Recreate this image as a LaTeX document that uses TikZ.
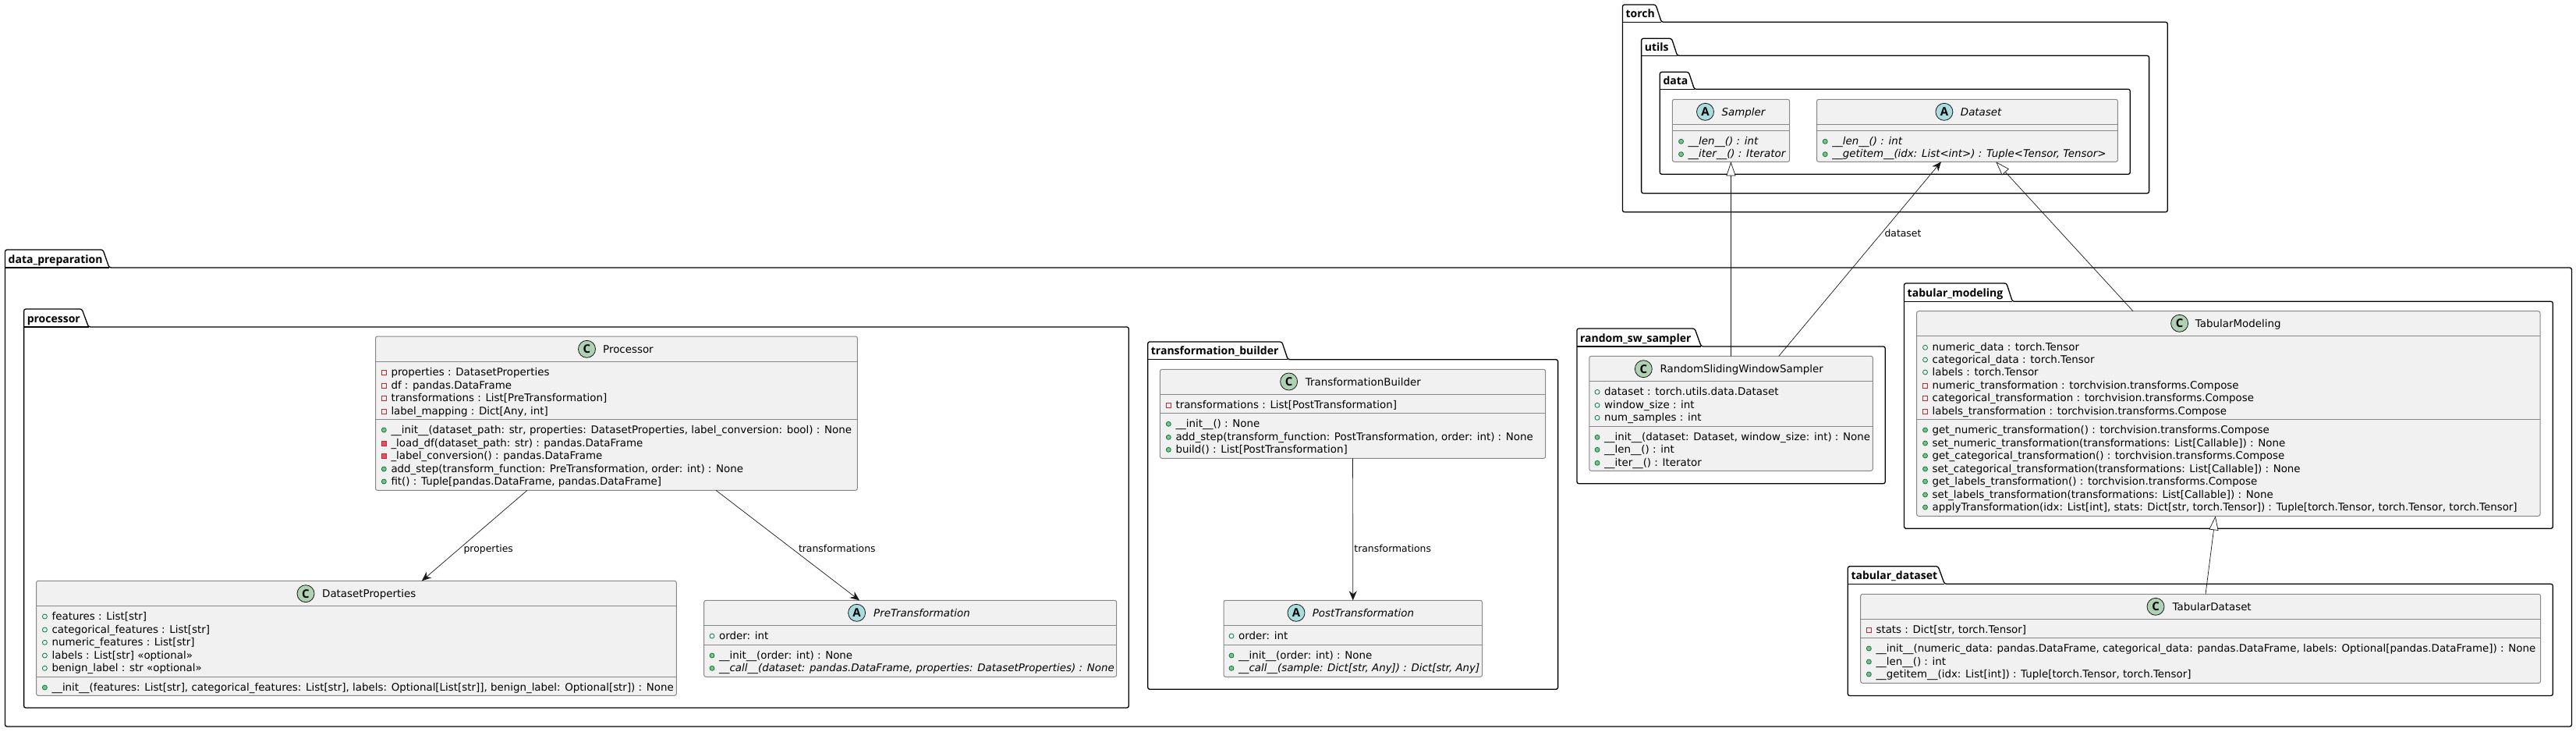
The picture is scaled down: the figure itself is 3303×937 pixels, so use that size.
\documentclass[tikz,border=0pt]{standalone}
\usepackage{fontspec}
\setmainfont{DejaVu Sans}
\newfontfamily\labelfont{Open Sans}
\usetikzlibrary{arrows.meta}
\definecolor{boxfill}{HTML}{F1F1F1}
\definecolor{boxrule}{HTML}{888888}
\definecolor{inkline}{HTML}{181818}
\definecolor{classicon}{HTML}{ADD1B2}
\definecolor{abstracticon}{HTML}{A9DCDF}
\definecolor{pubrule}{HTML}{038048}
\definecolor{pubfill}{HTML}{84BE84}
\definecolor{privrule}{HTML}{C82930}
\definecolor{privfill}{HTML}{F24D5C}
\tikzset{
  pkgline/.style={draw=black,line width=1.3pt,rounded corners=2.5pt},
  pkglabel/.style={anchor=base west,inner sep=0pt,font=\labelfont\fontsize{14}{16}\selectfont\bfseries},
  classbody/.style={draw=boxrule,fill=boxfill,line width=1pt,rounded corners=2.5pt,inner sep=0pt,outer sep=0pt},
  classrule/.style={draw=boxrule,line width=1pt},
  classtitle/.style={anchor=base west,inner sep=0pt,font=\fontsize{13.4}{16}\selectfont},
  membertext/.style={anchor=base west,inner sep=0pt,font=\fontsize{13.4}{16}\selectfont},
  edgelabel/.style={anchor=base west,inner sep=0pt,font=\fontsize{12.4}{15}\selectfont},
  cicon/.style={circle,draw=inkline,fill=classicon,line width=.8pt,minimum size=22pt,inner sep=0pt,font=\labelfont\fontsize{15}{15}\selectfont\bfseries},
  aicon/.style={cicon,fill=abstracticon},
  pubfield/.style={circle,draw=pubrule,line width=.8pt,minimum size=6pt,inner sep=0pt},
  pubmethod/.style={pubfield,fill=pubfill},
  privfield/.style={rectangle,draw=privrule,line width=.8pt,minimum size=6pt,inner sep=0pt},
  privmethod/.style={privfield,fill=privfill},
  assoc/.style={draw=inkline,line width=.7pt,-{Stealth[length=12pt,width=10pt,inset=4pt]}},
  extends/.style={draw=inkline,line width=.7pt,-{Triangle[open,fill=white,length=18pt,width=12pt]}}
}
\newcounter{memberno}
% name, label, left, tab top, tab right top, tab right bottom, body top, right, bottom
\newcommand\pkgbox[9]{
  \draw[pkgline] (#3,#7) -- (#3,#4) -- (#5,#4) -- (#6,#7) -- (#8,#7) -- (#8,#9) -- (#3,#9) -- cycle;
  \draw[pkgline] (#3,#7) -- (#6,#7);
  \node[pkglabel] (#1) at ({#3+4},{#7-6}) {#2};
}
% name, left, top, right, bottom, head rule, member rule
\newcommand\classbox[7]{
  \node[classbody,minimum width={(#4-#2)*1pt},minimum height={(#5-#3)*1pt}] (#1) at ({(#2+#4)/2},{(#3+#5)/2}) {};
  \draw[classrule] (#2,#6) -- (#4,#6);
  \draw[classrule] (#2,#7) -- (#4,#7);
}
% icon style, letter, name, icon x, y, title x, title
\newcommand\classhead[7]{
  \node[#1] (#3icon) at (#4,#5) {#2};
  \node[classtitle] (#3title) at ({#6},{#5+5}) {#7};
}
% icon style, icon x, y, text
\newcommand\member[4]{
  \stepcounter{memberno}
  \node[#1] (icon\thememberno) at (#2,{#3+1}) {};
  \node[membertext] (text\thememberno) at ({#2+9},{#3+5}) {#4};
}
\begin{document}
\begin{tikzpicture}[x=1pt,y=-1pt]
\useasboundingbox (0,0) rectangle (3303,937);
\fill[white] (0,0) rectangle (3303,937);
% packages
\pkgbox{pkgtorch}{torch}{2080.4}{6}{2123}{2130.3}{28.3}{2779.3}{271.7}
\pkgbox{pkgutils}{utils}{2104.6}{49.3}{2143.4}{2150.6}{71.3}{2755.6}{247.7}
\pkgbox{pkgdata}{data}{2128.3}{92.3}{2165.2}{2172.5}{114.3}{2731.3}{223.3}
\pkgbox{pkgprep}{data\_preparation}{6.5}{320}{132}{140}{343}{3297.4}{931}
\pkgbox{pkgproc}{processor}{30.6}{396}{105}{113.5}{419}{1447.3}{907}
\pkgbox{pkgbuilder}{transformation\_builder}{1471.7}{438}{1643.7}{1651.3}{460.7}{1997.6}{883.3}
\pkgbox{pkgsampler}{random\_sw\_sampler}{2021.9}{421}{2173}{2181.3}{444}{2417.3}{619.7}
\pkgbox{pkgmodeling}{tabular\_modeling}{2441.5}{363}{2572.8}{2580.3}{386.3}{3273.3}{677.3}
\pkgbox{pkgdataset}{tabular\_dataset}{2369.3}{725.7}{2485}{2493.3}{748.3}{3273.3}{891.5}
% Sampler
\classbox{sampler}{2144.3}{127.3}{2294.6}{207.3}{159.3}{167.3}
\classhead{aicon}{A}{sampler}{2186.5}{143.3}{2207.4}{\itshape Sampler}
\member{pubmethod}{2155.5}{180.3}{\itshape \_\_len\_\_() : int}
\member{pubmethod}{2155.5}{196.7}{\itshape \_\_iter\_\_() : Iterator}
% Dataset
\classbox{dataset}{2329.5}{127.3}{2715.4}{207.3}{159.3}{167.3}
\classhead{aicon}{A}{dataset}{2492.9}{143.3}{2513.7}{\itshape Dataset}
\member{pubmethod}{2340.2}{180.3}{\itshape \_\_len\_\_() : int}
\member{pubmethod}{2340.2}{196.7}{\itshape \_\_getitem\_\_(idx: List<int>) : Tuple<Tensor, Tensor>}
% Processor
\classbox{processor}{481.5}{431}{1099.3}{628.3}{463.3}{537.3}
\classhead{cicon}{C}{processor}{752.5}{447.3}{773}{Processor}
\member{privfield}{492.3}{476}{properties : DatasetProperties}
\member{privfield}{492.3}{493}{df : pandas.DataFrame}
\member{privfield}{492.3}{509}{transformations : List[PreTransformation]}
\member{privfield}{492.3}{526}{label\_mapping : Dict[Any, int]}
\member{pubmethod}{492.3}{550}{\_\_init\_\_(dataset\_path: str, properties: DatasetProperties, label\_conversion: bool) : None}
\member{privmethod}{492.3}{567}{\_load\_df(dataset\_path: str) : pandas.DataFrame}
\member{privmethod}{492.3}{583}{\_label\_conversion() : pandas.DataFrame}
\member{pubmethod}{492.3}{600}{add\_step(transform\_function: PreTransformation, order: int) : None}
\member{pubmethod}{492.3}{616}{fit() : Tuple[pandas.DataFrame, pandas.DataFrame]}
% DatasetProperties
\classbox{props}{46.6}{744.3}{867.3}{891.3}{776.3}{867.3}
\classhead{cicon}{C}{props}{392}{760.7}{413}{DatasetProperties}
\member{pubfield}{57.4}{789}{features : List[str]}
\member{pubfield}{57.4}{806}{categorical\_features : List[str]}
\member{pubfield}{57.4}{822.3}{numeric\_features : List[str]}
\member{pubfield}{57.4}{839}{labels : List[str] «optional»}
\member{pubfield}{57.4}{855.3}{benign\_label : str «optional»}
\member{pubmethod}{57.4}{880}{\_\_init\_\_(features: List[str], categorical\_features: List[str], labels: Optional[List[str]], benign\_label: Optional[str]) : None}
% PreTransformation
\classbox{pretrans}{902.7}{769.3}{1431.7}{867.3}{801.3}{826.3}
\classhead{aicon}{A}{pretrans}{1098.6}{785.3}{1120}{\itshape PreTransformation}
\member{pubfield}{913}{814}{order: int}
\member{pubmethod}{913}{839}{\_\_init\_\_(order: int) : None}
\member{pubmethod}{913}{855.3}{\itshape \_\_call\_\_(dataset: pandas.DataFrame, properties: DatasetProperties) : None}
% TransformationBuilder
\classbox{builder}{1487.4}{473.3}{1981.7}{587.3}{505.3}{529.3}
\classhead{cicon}{C}{builder}{1652.6}{489}{1673.6}{TransformationBuilder}
\member{privfield}{1498.3}{518}{transformations : List[PostTransformation]}
\member{pubmethod}{1498.3}{542.3}{\_\_init\_\_() : None}
\member{pubmethod}{1498.3}{559.3}{add\_step(transform\_function: PostTransformation, order: int) : None}
\member{pubmethod}{1498.3}{575.3}{build() : List[PostTransformation]}
% PostTransformation
\classbox{posttrans}{1569}{769.3}{1900.5}{867.3}{801.3}{826.3}
\classhead{aicon}{A}{posttrans}{1662}{785.3}{1682.6}{\itshape PostTransformation}
\member{pubfield}{1579}{814}{order: int}
\member{pubmethod}{1579}{839}{\_\_init\_\_(order: int) : None}
\member{pubmethod}{1579}{855.3}{\itshape \_\_call\_\_(sample: Dict[str, Any]) : Dict[str, Any]}
% RandomSlidingWindowSampler
\classbox{slider}{2037.8}{456.3}{2401.3}{603.3}{488.3}{546.3}
\classhead{cicon}{C}{slider}{2107.3}{472.7}{2128.4}{RandomSlidingWindowSampler}
\member{pubfield}{2048}{501.3}{dataset : torch.utils.data.Dataset}
\member{pubfield}{2048}{518.3}{window\_size : int}
\member{pubfield}{2048}{534.3}{num\_samples : int}
\member{pubmethod}{2048}{559.3}{\_\_init\_\_(dataset: Dataset, window\_size: int) : None}
\member{pubmethod}{2048}{575.3}{\_\_len\_\_() : int}
\member{pubmethod}{2048}{592.3}{\_\_iter\_\_() : Iterator}
% TabularModeling
\classbox{modeling}{2457.6}{398.7}{3257}{661.3}{430.3}{537.3}
\classhead{cicon}{C}{modeling}{2794.6}{414.3}{2814.7}{TabularModeling}
\member{pubfield}{2468.5}{444.3}{numeric\_data : torch.Tensor}
\member{pubfield}{2468.5}{460}{categorical\_data : torch.Tensor}
\member{pubfield}{2468.5}{476}{labels : torch.Tensor}
\member{privfield}{2468.5}{493}{numeric\_transformation : torchvision.transforms.Compose}
\member{privfield}{2468.5}{509.3}{categorical\_transformation : torchvision.transforms.Compose}
\member{privfield}{2468.5}{526}{labels\_transformation : torchvision.transforms.Compose}
\member{pubmethod}{2468.5}{550}{get\_numeric\_transformation() : torchvision.transforms.Compose}
\member{pubmethod}{2468.5}{567}{set\_numeric\_transformation(transformations: List[Callable]) : None}
\member{pubmethod}{2468.5}{583}{get\_categorical\_transformation() : torchvision.transforms.Compose}
\member{pubmethod}{2468.5}{600}{set\_categorical\_transformation(transformations: List[Callable]) : None}
\member{pubmethod}{2468.5}{616}{get\_labels\_transformation() : torchvision.transforms.Compose}
\member{pubmethod}{2468.5}{633}{set\_labels\_transformation(transformations: List[Callable]) : None}
\member{pubmethod}{2468.5}{649}{applyTransformation(idx: List[int], stats: Dict[str, torch.Tensor]) : Tuple[torch.Tensor, torch.Tensor, torch.Tensor]}
% TabularDataset
\classbox{tabdata}{2385.7}{761.3}{3257.5}{875.3}{793.3}{817.3}
\classhead{cicon}{C}{tabdata}{2764}{777.3}{2785.4}{TabularDataset}
\member{privfield}{2396.3}{806}{stats : Dict[str, torch.Tensor]}
\member{pubmethod}{2396.3}{830}{\_\_init\_\_(numeric\_data: pandas.DataFrame, categorical\_data: pandas.DataFrame, labels: Optional[pandas.DataFrame]) : None}
\member{pubmethod}{2396.3}{847}{\_\_len\_\_() : int}
\member{pubmethod}{2396.3}{863}{\_\_getitem\_\_(idx: List[int]) : Tuple[torch.Tensor, torch.Tensor]}
% connectors
\draw[assoc] ([xshift=-114.4pt]processor.south) -- ([xshift=84pt]props.north);
\draw[assoc] ([xshift=127.6pt]processor.south) -- ([xshift=-65.2pt]pretrans.north);
\draw[assoc] (builder.south) -- (posttrans.north);
\draw[extends] (slider.north) -- (sampler.south);
\draw[assoc] ([xshift=61.3pt]slider.north) -- ([xshift=-33.5pt]dataset.south);
\draw[extends] ([xshift=-122.3pt]modeling.north) -- ([xshift=36.8pt]dataset.south);
\draw[extends] ([xshift=6.4pt]tabdata.north) -- ([xshift=-16.6pt]modeling.south);
\node[edgelabel] (lblprops) at (594.4,707.7) {properties};
\node[edgelabel] (lblpre) at (1023.8,707.7) {transformations};
\node[edgelabel] (lblpost) at (1736.2,707.7) {transformations};
\node[edgelabel] (lbldataset) at (2416.3,303) {dataset};
\end{tikzpicture}
\end{document}
